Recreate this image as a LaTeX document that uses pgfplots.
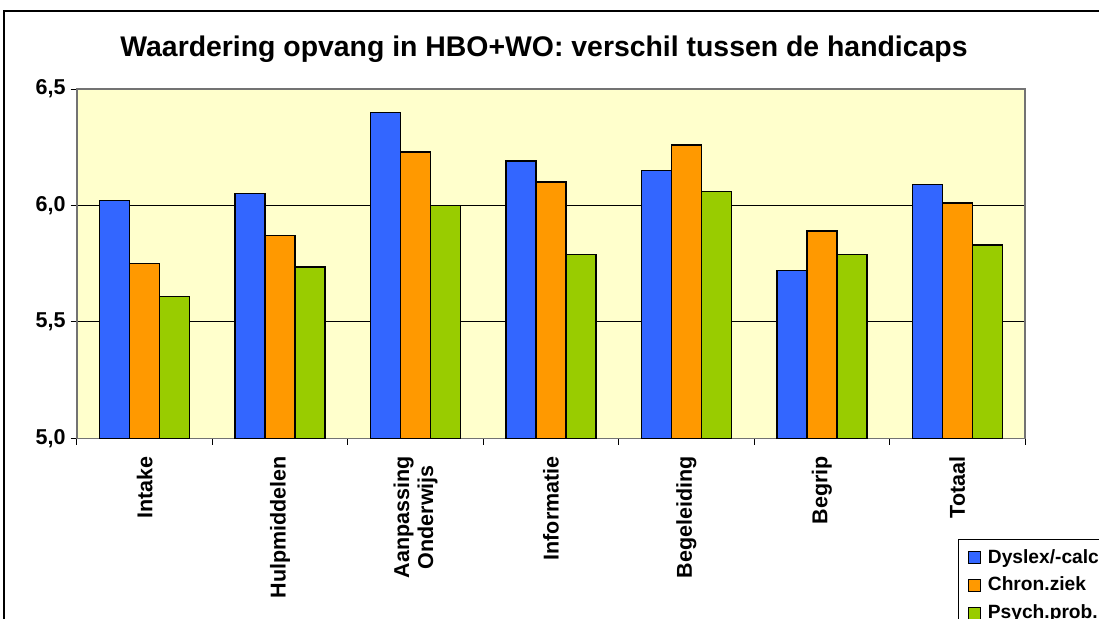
\documentclass[border=0pt]{standalone}
\usepackage{fontspec}
\setmainfont{Liberation Sans}
\usepackage{pgfplots}
\pgfplotsset{compat=1.18}

\definecolor{barBlue}{RGB}{51,102,255}
\definecolor{barOrange}{RGB}{255,153,0}
\definecolor{barGreen}{RGB}{153,204,0}
\definecolor{plotBg}{RGB}{255,255,204}

\begin{document}
\begin{tikzpicture}
  % picture is 549.5pt x 309pt (0.5pt per reference pixel)
  \useasboundingbox (0pt,0pt) rectangle (549.5pt,309pt);
  \clip (0pt,0pt) rectangle (549.5pt,309pt);
  \fill[white] (0pt,0pt) rectangle (549.5pt,309pt);
  % outer chart frame (right and bottom fall outside the picture)
  \draw[line width=0.8pt] (2pt,-10pt) -- (2pt,303.5pt) -- (565pt,303.5pt);
  \node[font=\fontsize{14.2}{16}\selectfont\bfseries] at (272pt,284.5pt)
    {Waardering opvang in HBO+WO: verschil tussen de handicaps};
  \begin{axis}[
      at={(38.5pt,89.85pt)}, anchor=south west,
      scale only axis,
      width=474pt, height=174.65pt,
      ybar=0pt, bar width=15pt,
      xmin=0.5, xmax=7.5,
      ymin=5, ymax=6.5,
      ytick={5,5.5,6,6.5},
      xtick={0.5,1.5,...,7.5},
      xticklabels={},
      xtick pos=bottom, ytick pos=left,
      extra x ticks={1,2,3,4,5,6,7},
      extra x tick labels={Intake, Hulpmiddelen, {Aanpassing\\Onderwijs},
                           Informatie, Begeleiding, Begrip, Totaal},
      extra x tick style={major tick length=0pt,
          xticklabel style={rotate=90, anchor=east, align=center,
              xshift=-5.5pt, font=\fontsize{10.75}{12}\selectfont\bfseries}},
      tick align=outside,
      major tick length=3.2pt,
      tick style={black, line width=0.5pt},
      axis line style={black!55, line width=0.6pt},
      ymajorgrids=true,
      grid style={black, line width=0.5pt},
      axis background/.style={fill=plotBg},
      yticklabel style={font=\fontsize{10.75}{12}\selectfont\bfseries,
          xshift=1pt},
      /pgf/number format/.cd, use comma, fixed, fixed zerofill, precision=1,
          assume math mode=true,
      /pgfplots/.cd,
      legend style={at={(rel axis cs:0.929,-0.287)}, anchor=north west,
          draw=black, line width=0.6pt, fill=white,
          font=\fontsize{9.6}{11}\selectfont\bfseries,
          row sep=1.5pt, inner xsep=5pt, inner ysep=3pt},
      legend cell align=left,
      legend image code/.code={
          \path[draw=none, fill=none] (0pt,0pt) -- (7.5pt,0pt);
          \draw[#1, line width=0.6pt] (0pt,-3pt) rectangle (6pt,3pt);},
      every axis plot/.append style={draw=black, line width=0.7pt},
      clip=false,
  ]
    \addplot[fill=barBlue] coordinates {
      (1,6.02) (2,6.05) (3,6.40) (4,6.19) (5,6.15) (6,5.72) (7,6.09)};
    \addlegendentry{Dyslex/-calculie}
    \addplot[fill=barOrange] coordinates {
      (1,5.75) (2,5.87) (3,6.23) (4,6.10) (5,6.26) (6,5.89) (7,6.01)};
    \addlegendentry{Chron.ziek}
    \addplot[fill=barGreen] coordinates {
      (1,5.61) (2,5.735) (3,6.00) (4,5.79) (5,6.06) (6,5.79) (7,5.83)};
    \addlegendentry{Psych.prob.}
  \end{axis}
\end{tikzpicture}
\end{document}
